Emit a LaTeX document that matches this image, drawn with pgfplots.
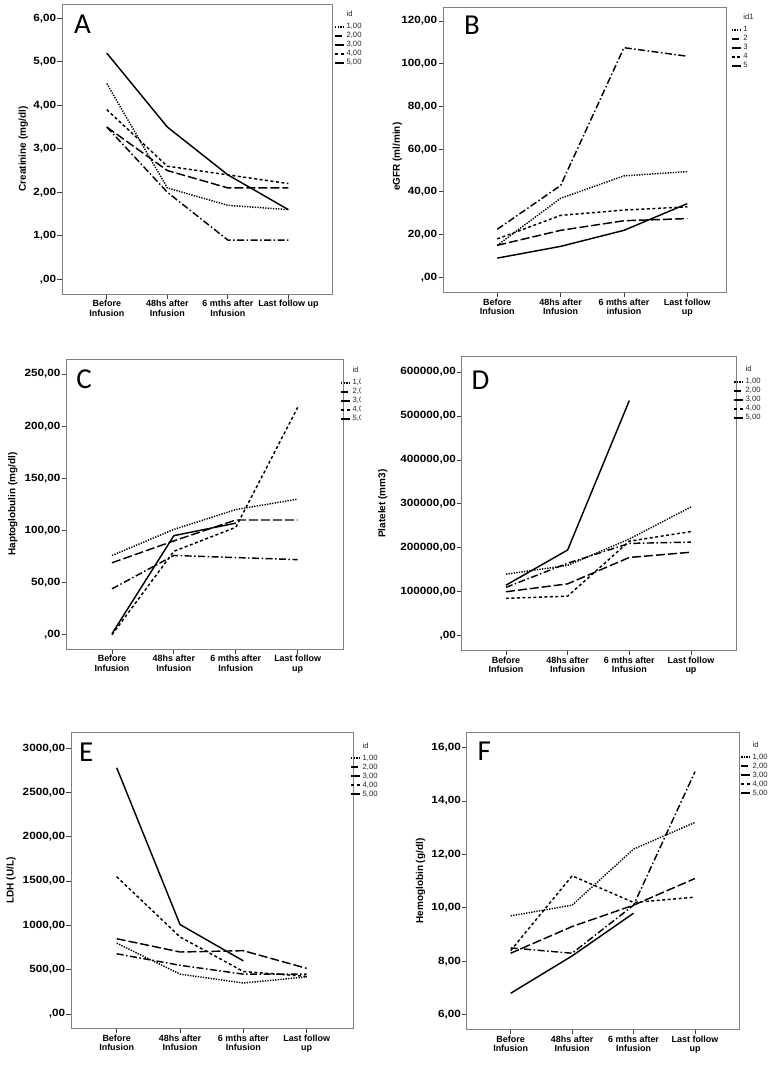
\documentclass[border=0pt]{standalone}
\usepackage{fontspec}
\setmainfont{Liberation Sans}
\newfontfamily\tickfont[FakeStretch=1.12]{Liberation Sans Bold}
\newfontfamily\letterfont{Carlito}
\usepackage{pgfplots}
\pgfplotsset{compat=1.18}
\pgfplotsset{
  spss/.style={
    scale only axis,
    axis line style={black!50, line width=0.9bp},
    tick align=outside,
    xtick pos=bottom, ytick pos=left,
    major tick length=4.5bp,
    tick style={black!75, line width=0.8bp},
    xtick={0,1,2,3},
    /pgf/number format/assume math mode=true,
    x tick label style={font=\bfseries\fontsize{9}{9.4}\selectfont, align=center, inner ysep=1.5bp},
    y tick label style={font=\tickfont\fontsize{10.5}{11}\selectfont, inner xsep=1.2bp},
    ylabel style={font=\bfseries\fontsize{10}{11}\selectfont, anchor=center},
    legend cell align=left,
    legend style={draw=none, fill=none, font=\fontsize{7.7}{8}\selectfont, anchor=north west,
      inner sep=0pt, row sep=1.5bp, column sep=1bp, text=black!85,
      nodes={inner sep=0.5bp, text height=5.5bp, text depth=1bp}},
    legend image code/.code={\draw[#1, line width=2bp] (0bp,0bp) -- (9bp,0bp);},
    every axis plot/.append style={black, line width=1.45bp, mark=none},
  },
  id1/.style={dash pattern=on 1.3bp off 1.3bp},
  id2/.style={dash pattern=on 7bp off 2.5bp on 1.5bp off 2.5bp},
  id3/.style={dash pattern=on 9bp off 3bp},
  id4/.style={dash pattern=on 3bp off 2.5bp},
  id5/.style={solid},
}
\newcommand{\plabel}[3]{\node[font=\letterfont\fontsize{29}{29}\selectfont, anchor=base west, inner sep=0pt] at (axis description cs:#1,#2) {#3};}
\begin{document}
\begin{tikzpicture}
\path[use as bounding box] (0,0) rectangle (769bp,-1068bp);

% ---------- A ----------
\begin{axis}[spss, at={(62bp,-4bp)}, anchor=north west, width=270bp, height=290bp,
  xmin=-0.74, xmax=3.72, ymin=-0.34, ymax=6.33,
  xticklabels={{Before\\Infusion},{48hs after\\Infusion},{6 mths after\\Infusion},{Last follow up}},
  ytick={0,1,2,3,4,5,6},
  yticklabels={{,00},{1,00},{2,00},{3,00},{4,00},{5,00},{6,00}},
  ylabel={Creatinine (mg/dl)}, ylabel style={at={(axis description cs:-0.143,0.5)}},
  legend style={at={(axis description cs:1.007,0.967)}}]
\addlegendimage{empty legend}\addlegendentry{\raisebox{3bp}{id}}
\addplot[id1] coordinates {(0,4.5) (1,2.1) (2,1.7) (3,1.6)}; \addlegendentry{1,00}
\addplot[id2] coordinates {(0,3.5) (1,2.0) (2,0.9) (3,0.9)}; \addlegendentry{2,00}
\addplot[id3] coordinates {(0,3.5) (1,2.5) (2,2.1) (3,2.1)}; \addlegendentry{3,00}
\addplot[id4] coordinates {(0,3.9) (1,2.6) (2,2.4) (3,2.2)}; \addlegendentry{4,00}
\addplot[id5] coordinates {(0,5.2) (1,3.5) (2,2.4) (3,1.6)}; \addlegendentry{5,00}
\plabel{0.044}{0.9}{A}
\end{axis}

% ---------- B ----------
\begin{axis}[spss, at={(443bp,-7.3bp)}, anchor=north west, width=283.3bp, height=285bp,
  xmin=-0.857, xmax=3.616, ymin=-7.0, ymax=126.4,
  xticklabels={{Before\\Infusion},{48hs after\\Infusion},{6 mths after\\infusion},{Last follow\\up}},
  ytick={0,20,40,60,80,100,120},
  yticklabels={{,00},{20,00},{40,00},{60,00},{80,00},{100,00},{120,00}},
  ylabel={eGFR (ml/min)}, ylabel style={at={(axis description cs:-0.161,0.476)}},
  legend style={at={(axis description cs:1.0155,0.967)}}]
\addlegendimage{empty legend}\addlegendentry{\raisebox{3bp}{id1}}
\addplot[id1] coordinates {(0,15) (1,37) (2,47.5) (3,49.5)}; \addlegendentry{1}
\addplot[id2] coordinates {(0,22.5) (1,43) (2,107.5) (3,103.5)}; \addlegendentry{2}
\addplot[id3] coordinates {(0,15) (1,22) (2,26.5) (3,27.5)}; \addlegendentry{3}
\addplot[id4] coordinates {(0,18) (1,29) (2,31.5) (3,33)}; \addlegendentry{4}
\addplot[id5] coordinates {(0,9) (1,14.5) (2,22) (3,34.5)}; \addlegendentry{5}
\plabel{0.074}{0.905}{B}
\end{axis}

% ---------- C ----------
\begin{axis}[spss, at={(66.3bp,-359bp)}, anchor=north west, width=277bp, height=290bp,
  xmin=-0.738, xmax=3.737, ymin=-13.7, ymax=264.4,
  xticklabels={{Before\\Infusion},{48hs after\\Infusion},{6 mths after\\Infusion},{Last follow\\up}},
  ytick={0,50,100,150,200,250},
  yticklabels={{,00},{50,00},{100,00},{150,00},{200,00},{250,00}},
  ylabel={Haptoglobulin (mg/dl)}, ylabel style={at={(axis description cs:-0.1935,0.5)}},
  legend style={at={(axis description cs:0.988,0.963)}}]
\addlegendimage{empty legend}\addlegendentry{\raisebox{3bp}{id}}
\addplot[id1] coordinates {(0,76) (1,101) (2,120) (3,130)}; \addlegendentry{1,00}
\addplot[id2] coordinates {(0,44) (1,76) (2,74) (3,72)}; \addlegendentry{2,00}
\addplot[id3] coordinates {(0,69) (1,90) (2,110) (3,110)}; \addlegendentry{3,00}
\addplot[id4] coordinates {(0,0) (1,80) (2,103) (3,218)}; \addlegendentry{4,00}
\addplot[id5] coordinates {(0,1) (1,95) (2,107)}; \addlegendentry{5,00}
\plabel{0.036}{0.899}{C}
\end{axis}
\fill[white] (360.5bp,-372bp) rectangle (376bp,-426bp);

% ---------- D ----------
\begin{axis}[spss, at={(461.7bp,-356.7bp)}, anchor=north west, width=274.6bp, height=294bp,
  xmin=-0.718, xmax=3.735, ymin=-34130, ymax=634800,
  scaled y ticks=false,
  xticklabels={{Before\\Infusion},{48hs after\\Infusion},{6 mths after\\Infusion},{Last follow\\up}},
  ytick={0,100000,200000,300000,400000,500000,600000},
  yticklabels={{,00},{100000,00},{200000,00},{300000,00},{400000,00},{500000,00},{600000,00}},
  ylabel={Platelet (mm3)}, ylabel style={at={(axis description cs:-0.2877,0.5)}},
  legend style={at={(axis description cs:0.988,0.959)}}]
\addlegendimage{empty legend}\addlegendentry{\raisebox{3bp}{id}}
\addplot[id1] coordinates {(0,140000) (1,160000) (2,220000) (3,293000)}; \addlegendentry{1,00}
\addplot[id2] coordinates {(0,110000) (1,165000) (2,210000) (3,213000)}; \addlegendentry{2,00}
\addplot[id3] coordinates {(0,100000) (1,118000) (2,178000) (3,190000)}; \addlegendentry{3,00}
\addplot[id4] coordinates {(0,85000) (1,90000) (2,215000) (3,237000)}; \addlegendentry{4,00}
\addplot[id5] coordinates {(0,115000) (1,195000) (2,535000)}; \addlegendentry{5,00}
\plabel{0.035}{0.889}{D}
\end{axis}

% ---------- E ----------
\begin{axis}[spss, at={(71bp,-732.7bp)}, anchor=north west, width=282.3bp, height=295.6bp,
  xmin=-0.722, xmax=3.736, ymin=-161.5, ymax=3176,
  xticklabels={{Before\\Infusion},{48hs after\\Infusion},{6 mths after\\Infusion},{Last follow\\up}},
  ytick={0,500,1000,1500,2000,2500,3000},
  yticklabels={{,00},{500,00},{1000,00},{1500,00},{2000,00},{2500,00},{3000,00}},
  ylabel={LDH (U/L)}, ylabel style={at={(axis description cs:-0.2125,0.5)}},
  legend style={at={(axis description cs:0.988,0.959)}}]
\addlegendimage{empty legend}\addlegendentry{\raisebox{3bp}{id}}
\addplot[id1] coordinates {(0,800) (1,450) (2,350) (3,420)}; \addlegendentry{1,00}
\addplot[id2] coordinates {(0,680) (1,550) (2,450) (3,450)}; \addlegendentry{2,00}
\addplot[id3] coordinates {(0,850) (1,700) (2,715) (3,515)}; \addlegendentry{3,00}
\addplot[id4] coordinates {(0,1550) (1,870) (2,480) (3,425)}; \addlegendentry{4,00}
\addplot[id5] coordinates {(0,2780) (1,1010) (2,600)}; \addlegendentry{5,00}
\plabel{0.028}{0.904}{E}
\end{axis}

% ---------- F ----------
\begin{axis}[spss, at={(466.7bp,-732.7bp)}, anchor=north west, width=272.3bp, height=296.6bp,
  xmin=-0.716, xmax=3.716, ymin=5.45, ymax=16.56,
  xticklabels={{Before\\Infusion},{48hs after\\Infusion},{6 mths after\\Infusion},{Last follow\\up}},
  ytick={6,8,10,12,14,16},
  yticklabels={{6,00},{8,00},{10,00},{12,00},{14,00},{16,00}},
  ylabel={Hemoglobin (g/dl)}, ylabel style={at={(axis description cs:-0.169,0.5)}},
  legend style={at={(axis description cs:1.0037,0.9606)}}]
\addlegendimage{empty legend}\addlegendentry{\raisebox{3bp}{id}}
\addplot[id1] coordinates {(0,9.7) (1,10.1) (2,12.2) (3,13.2)}; \addlegendentry{1,00}
\addplot[id2] coordinates {(0,8.5) (1,8.3) (2,10.1) (3,15.1)}; \addlegendentry{2,00}
\addplot[id3] coordinates {(0,8.3) (1,9.3) (2,10.1) (3,11.1)}; \addlegendentry{3,00}
\addplot[id4] coordinates {(0,8.4) (1,11.2) (2,10.2) (3,10.4)}; \addlegendentry{4,00}
\addplot[id5] coordinates {(0,6.8) (1,8.2) (2,9.8)}; \addlegendentry{5,00}
\plabel{0.039}{0.905}{F}
\end{axis}
\end{tikzpicture}
\end{document}
